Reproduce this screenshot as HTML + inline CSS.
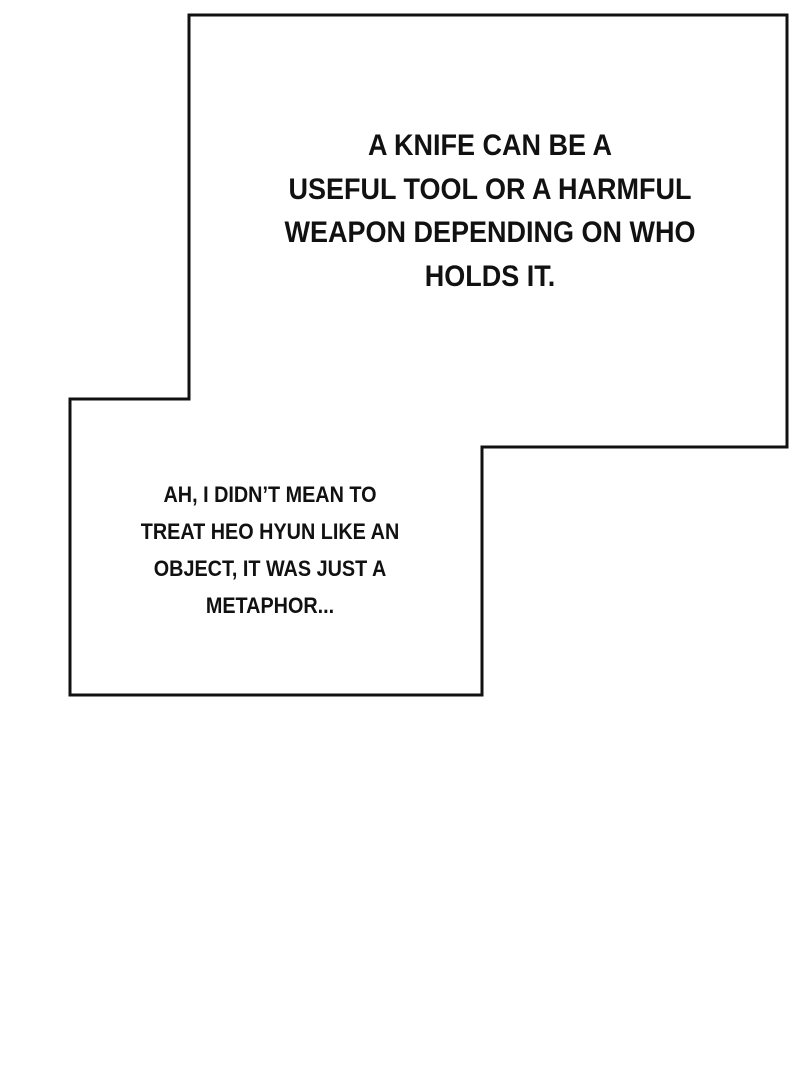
<!DOCTYPE html>
<html><head><style>
body{margin:0;background:#fff;width:800px;height:1080px;overflow:hidden;position:relative;font-family:"Liberation Sans Narrow","Liberation Sans",sans-serif;}
.t{position:absolute;text-align:center;color:#111;white-space:nowrap;font-weight:bold;}
.t div{transform:scaleX(0.9);}
</style></head><body>
<svg width="800" height="1080" style="position:absolute;left:0;top:0">
<path d="M189 15 H787 V447 H482 V695 H70 V399 H189 Z" fill="#fff" stroke="#111" stroke-width="3"/>
</svg>
<div class="t" style="left:240px;width:500px;top:124px;font-size:30px;line-height:43.5px;">
<div>A KNIFE CAN BE A</div><div>USEFUL TOOL OR A HARMFUL</div><div>WEAPON DEPENDING ON WHO</div><div>HOLDS IT.</div></div>
<div class="t" style="left:120px;width:300px;top:476px;font-size:22px;line-height:37px;">
<div>AH, I DIDN’T MEAN TO</div><div>TREAT HEO HYUN LIKE AN</div><div>OBJECT, IT WAS JUST A</div><div>METAPHOR...</div></div>
</body></html>
